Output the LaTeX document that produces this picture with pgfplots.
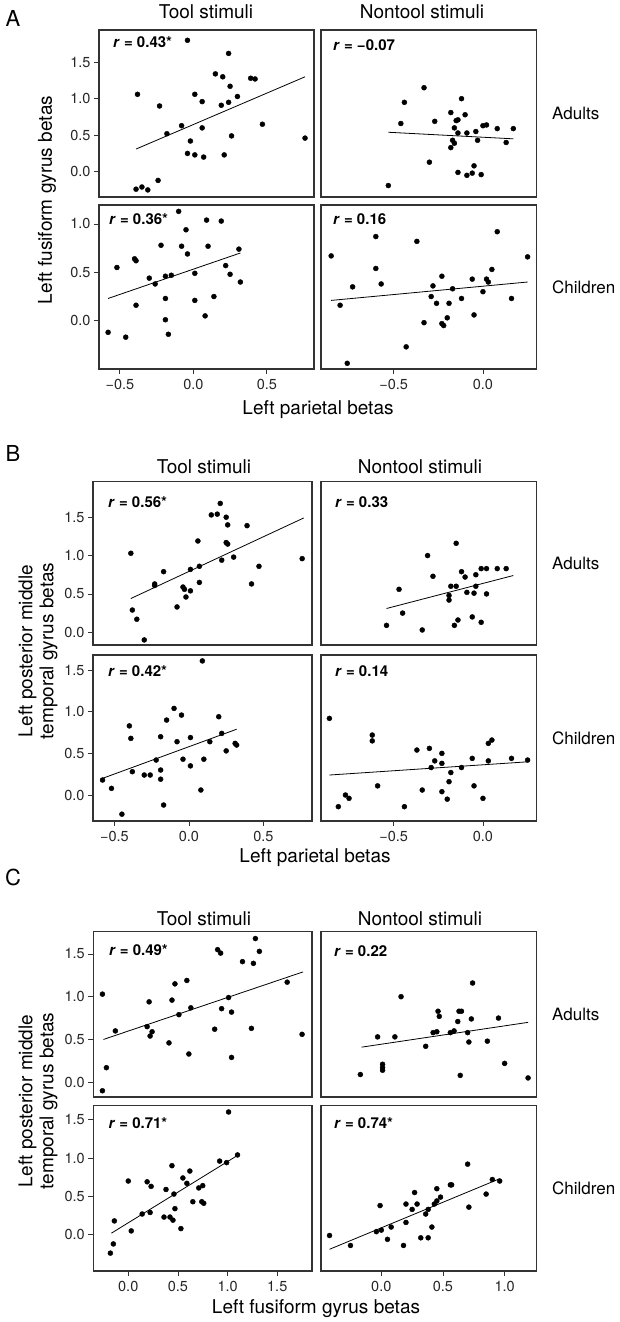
\documentclass[border=0pt]{standalone}
\usepackage{pgfplots}
\pgfplotsset{compat=1.18}
\usepackage{fontspec}
\setmainfont{TeX Gyre Heros}

\newcommand{\tickfont}{\fontsize{14.5}{17}\selectfont}
\newcommand{\labfont}{\fontsize{19}{21}\selectfont}
\newcommand{\rowfont}{\fontsize{17}{20}\selectfont}
\newcommand{\rfont}{\fontsize{15}{18}\selectfont\bfseries}

\pgfplotsset{
  sc/.style={
    scale only axis, clip=false, anchor=north west,
    axis line style={line width=1.4pt, black!80},
    tick align=outside, major tick length=5pt,
    tick style={line width=0.8pt, black!80},
    ticklabel style={font=\tickfont, text=black!85},
    xticklabel style={yshift=-2pt},
    xtick pos=bottom, ytick pos=left,
  },
  pts/.style={only marks, mark=*, mark size=2.5pt, black},
  fit/.style={black, line width=0.8pt, no marks},
}
\tikzset{rl/.style={anchor=west, inner sep=0pt, font=\rfont},
  row/.style={anchor=west, inner sep=0pt, font=\rowfont}}

\begin{document}
\begin{tikzpicture}
\fill[white] (0pt,0pt) rectangle (619pt,-1322pt);
\path[use as bounding box] (0pt,0pt) rectangle (619pt,-1322pt);

% ================= panel A =================
\node[font=\fontsize{22}{24}\selectfont] at (13pt,-18pt) {A};
\node[anchor=base, font=\labfont] at (206pt,-19pt) {Tool stimuli};
\node[anchor=base, font=\labfont] at (422pt,-19pt) {Nontool stimuli};
\node[rotate=90, font=\labfont] at (47pt,-200pt) {Left fusiform gyrus betas};
\node[font=\labfont] at (318pt,-410pt) {Left parietal betas};
\node[row] at (552pt,-113pt) {Adults};
\node[row] at (552pt,-287pt) {Children};

\begin{axis}[sc, at={(99pt,-30pt)}, width=215pt, height=167pt,
  xmin=-0.642, xmax=0.821, ymin=-0.347, ymax=1.941,
  xtick=\empty, ytick={0,0.5,1,1.5}, yticklabels={0.0,0.5,1.0,1.5}]
\addplot[pts] coordinates {(-0.38,1.06) (-0.23,0.90) (-0.18,0.52) (-0.08,0.63) (-0.04,1.80) (-0.02,0.42) (-0.04,0.25) (0.01,1.06) (0.01,0.23) (0.06,0.96) (0.06,0.60) (0.07,0.20) (0.15,1.34) (0.20,1.30) (0.19,0.91) (0.24,0.95) (0.25,1.17) (0.24,1.62) (0.26,0.49) (0.21,0.23) (0.30,1.03) (0.39,1.28) (0.42,1.27) (0.47,0.65) (-0.39,-0.24) (-0.35,-0.21) (-0.31,-0.25) (-0.24,-0.12) (0.76,0.46)};
\addplot[fit] coordinates {(-0.39,0.31) (0.76,1.30)};
\node[rl] at ([xshift=14pt,yshift=-12pt]rel axis cs:0,1) {\textit{r} = 0.43*};
\end{axis}

\begin{axis}[sc, at={(321pt,-30pt)}, width=215.7pt, height=167pt,
  xmin=-0.907, xmax=0.301, ymin=-0.347, ymax=1.941,
  xtick=\empty, ytick=\empty]
\addplot[pts] coordinates {(-0.33,1.15) (-0.44,0.95) (-0.46,0.66) (-0.27,0.69) (-0.12,1.00) (-0.18,0.81) (-0.10,0.78) (-0.15,0.70) (-0.14,0.71) (-0.16,0.60) (-0.14,0.53) (-0.09,0.53) (-0.04,0.55) (-0.03,0.43) (-0.17,0.43) (-0.16,0.39) (-0.18,0.33) (-0.30,0.13) (-0.05,0.08) (-0.14,-0.01) (-0.09,-0.05) (-0.06,-0.02) (-0.53,-0.19) (0.00,0.63) (0.02,0.64) (0.08,0.59) (0.13,0.40) (0.17,0.59) (-0.01,-0.04)};
\addplot[fit] coordinates {(-0.53,0.54) (0.17,0.45)};
\node[rl] at ([xshift=12pt,yshift=-15pt]rel axis cs:0,1) {\textit{r} = −0.07};
\end{axis}

\begin{axis}[sc, at={(99pt,-205pt)}, width=215pt, height=164pt,
  xmin=-0.642, xmax=0.821, ymin=-0.499, ymax=1.196,
  xtick={-0.5,0,0.5}, xticklabels={−0.5,0.0,0.5},
  ytick={-0.5,0,0.5,1}, yticklabels={−0.5,0.0,0.5,1.0}]
\addplot[pts] coordinates {(-0.58,-0.12) (-0.46,-0.17) (-0.52,0.55) (-0.40,0.64) (-0.39,0.62) (-0.39,0.16) (-0.30,0.44) (-0.26,0.38) (-0.22,0.78) (-0.19,0.46) (-0.19,0.23) (-0.19,0.01) (-0.17,-0.14) (-0.15,0.47) (-0.10,1.13) (-0.08,0.77) (-0.05,0.94) (-0.04,0.69) (0.01,0.49) (0.01,0.21) (0.08,0.05) (0.09,1.04) (0.10,0.77) (0.14,0.25) (0.19,1.03) (0.22,0.57) (0.25,0.48) (0.31,0.74) (0.32,0.40)};
\addplot[fit] coordinates {(-0.58,0.23) (0.32,0.70)};
\node[rl] at ([xshift=10pt,yshift=-14pt]rel axis cs:0,1) {\textit{r} = 0.36*};
\end{axis}

\begin{axis}[sc, at={(321pt,-205pt)}, width=215.7pt, height=164pt,
  xmin=-0.907, xmax=0.301, ymin=-0.499, ymax=1.196,
  xtick={-0.5,0}, xticklabels={−0.5,0.0}, ytick=\empty]
\addplot[pts] coordinates {(-0.85,0.67) (-0.80,0.16) (-0.76,-0.44) (-0.73,0.35) (-0.60,0.87) (-0.60,0.54) (-0.57,0.38) (-0.43,-0.27) (-0.37,0.82) (-0.33,-0.02) (-0.29,0.25) (-0.28,0.36) (-0.26,0.18) (-0.23,0.46) (-0.23,-0.03) (-0.22,-0.05) (-0.20,0.03) (-0.19,0.18) (-0.17,0.33) (-0.12,0.23) (-0.06,0.43) (-0.05,0.06) (0.00,0.30) (0.02,0.43) (0.03,0.40) (0.05,0.53) (0.08,0.92) (0.16,0.23) (0.25,0.66)};
\addplot[fit] coordinates {(-0.85,0.21) (0.25,0.40)};
\node[rl] at ([xshift=12pt,yshift=-14pt]rel axis cs:0,1) {\textit{r} = 0.16};
\end{axis}

% ================= panel B =================
\node[font=\fontsize{22}{24}\selectfont] at (13pt,-453pt) {B};
\node[anchor=base, font=\labfont] at (204pt,-473pt) {Tool stimuli};
\node[anchor=base, font=\labfont] at (420pt,-473pt) {Nontool stimuli};
\node[rotate=90, font=\labfont, align=center] at (38pt,-651pt) {Left posterior middle\\temporal gyrus betas};
\node[font=\labfont] at (315pt,-858pt) {Left parietal betas};
\node[row] at (552pt,-563pt) {Adults};
\node[row] at (552pt,-738pt) {Children};

\begin{axis}[sc, at={(93pt,-481.7pt)}, width=219pt, height=163.3pt,
  xmin=-0.644, xmax=0.826, ymin=-0.166, ymax=1.963,
  xtick=\empty, ytick={0,0.5,1,1.5}, yticklabels={0.0,0.5,1.0,1.5}]
\addplot[pts] coordinates {(-0.39,1.03) (-0.38,0.29) (-0.23,0.61) (-0.23,0.63) (-0.17,0.79) (-0.08,0.33) (-0.04,0.59) (-0.03,0.56) (-0.02,0.46) (0.01,0.54) (0.01,0.82) (0.06,1.19) (0.07,0.86) (0.07,0.65) (0.15,1.53) (0.19,1.54) (0.21,1.68) (0.25,1.50) (0.26,1.40) (0.25,1.17) (0.26,1.15) (0.22,0.94) (0.30,0.98) (0.39,1.39) (0.42,0.63) (0.47,0.86) (-0.35,0.17) (-0.30,-0.10) (0.76,0.96)};
\addplot[fit] coordinates {(-0.39,0.44) (0.77,1.49)};
\node[rl] at ([xshift=15pt,yshift=-20.5pt]rel axis cs:0,1) {\textit{r} = 0.56*};
\end{axis}

\begin{axis}[sc, at={(321pt,-481.7pt)}, width=215.7pt, height=163.3pt,
  xmin=-0.907, xmax=0.301, ymin=-0.166, ymax=1.963,
  xtick=\empty, ytick=\empty]
\addplot[pts] coordinates {(-0.15,1.16) (-0.31,1.00) (-0.28,0.73) (-0.47,0.56) (-0.12,0.79) (-0.10,0.72) (-0.04,0.75) (-0.18,0.60) (-0.15,0.60) (-0.04,0.60) (-0.19,0.48) (-0.19,0.42) (-0.09,0.52) (-0.05,0.51) (-0.45,0.25) (-0.54,0.09) (-0.34,0.03) (-0.16,0.09) (-0.14,0.16) (-0.06,0.20) (-0.01,0.13) (-0.01,0.83) (0.02,0.83) (0.08,0.83) (0.13,0.83) (0.02,0.50)};
\addplot[fit] coordinates {(-0.54,0.31) (0.17,0.74)};
\node[rl] at ([xshift=14pt,yshift=-20pt]rel axis cs:0,1) {\textit{r} = 0.33};
\end{axis}

\begin{axis}[sc, at={(93pt,-655pt)}, width=219pt, height=166pt,
  xmin=-0.644, xmax=0.826, ymin=-0.312, ymax=1.681,
  xtick={-0.5,0,0.5}, xticklabels={−0.5,0.0,0.5},
  ytick={0,0.5,1,1.5}, yticklabels={0.0,0.5,1.0,1.5}]
\addplot[pts] coordinates {(-0.58,0.18) (-0.52,0.08) (-0.45,-0.23) (-0.40,0.83) (-0.39,0.68) (-0.38,0.28) (-0.30,0.24) (-0.26,0.24) (-0.22,0.42) (-0.19,0.70) (-0.19,0.30) (-0.19,0.19) (-0.17,-0.12) (-0.15,0.90) (-0.10,1.04) (-0.08,0.64) (-0.05,0.96) (-0.04,0.43) (0.01,0.69) (0.01,0.35) (0.08,0.06) (0.09,1.61) (0.10,0.43) (0.14,0.64) (0.20,0.94) (0.22,0.74) (0.25,0.53) (0.31,0.62) (0.32,0.60)};
\addplot[fit] coordinates {(-0.58,0.20) (0.32,0.79)};
\node[rl] at ([xshift=15pt,yshift=-16pt]rel axis cs:0,1) {\textit{r} = 0.42*};
\end{axis}

\begin{axis}[sc, at={(321pt,-655pt)}, width=215.7pt, height=166pt,
  xmin=-0.907, xmax=0.301, ymin=-0.312, ymax=1.681,
  xtick={-0.5,0}, xticklabels={−0.5,0.0}, ytick=\empty]
\addplot[pts] coordinates {(-0.86,0.92) (-0.81,-0.14) (-0.77,0.00) (-0.75,-0.04) (-0.62,0.72) (-0.62,0.65) (-0.59,0.11) (-0.44,-0.14) (-0.37,0.54) (-0.34,0.06) (-0.30,0.56) (-0.27,0.41) (-0.29,0.33) (-0.23,0.50) (-0.23,0.38) (-0.18,0.27) (-0.19,0.16) (-0.23,0.04) (-0.20,-0.05) (-0.12,0.33) (-0.06,0.44) (-0.05,0.11) (0.00,-0.04) (0.03,0.41) (0.03,0.62) (0.05,0.66) (0.16,0.44) (0.25,0.42)};
\addplot[fit] coordinates {(-0.86,0.24) (0.26,0.40)};
\node[rl] at ([xshift=14pt,yshift=-16pt]rel axis cs:0,1) {\textit{r} = 0.14};
\end{axis}

% ================= panel C =================
\node[font=\fontsize{22}{24}\selectfont] at (13pt,-877pt) {C};
\node[anchor=base, font=\labfont] at (204pt,-925pt) {Tool stimuli};
\node[anchor=base, font=\labfont] at (420pt,-925pt) {Nontool stimuli};
\node[rotate=90, font=\labfont, align=center] at (38pt,-1101pt) {Left posterior middle\\temporal gyrus betas};
\node[font=\labfont] at (316pt,-1309pt) {Left fusiform gyrus betas};
\node[row] at (552pt,-1014pt) {Adults};
\node[row] at (552pt,-1188pt) {Children};

\begin{axis}[sc, at={(93.3pt,-931.7pt)}, width=218.7pt, height=165.3pt,
  xmin=-0.352, xmax=1.850, ymin=-0.173, ymax=1.760,
  xtick=\empty, ytick={0,0.5,1,1.5}, yticklabels={0.0,0.5,1.0,1.5}]
\addplot[pts] coordinates {(-0.26,1.03) (-0.13,0.60) (0.19,0.65) (0.21,0.94) (0.24,0.59) (0.22,0.54) (0.44,0.96) (0.47,1.15) (0.59,1.19) (0.51,0.79) (0.63,0.87) (0.87,0.62) (0.90,1.55) (0.93,1.51) (0.94,0.86) (1.01,0.99) (1.04,0.82) (1.15,1.41) (1.24,0.63) (1.26,1.39) (1.28,1.68) (1.32,1.53) (1.60,1.17) (-0.22,0.17) (-0.26,-0.10) (0.41,0.46) (0.61,0.33) (1.04,0.29) (1.75,0.56)};
\addplot[fit] coordinates {(-0.25,0.50) (1.76,1.29)};
\node[rl] at ([xshift=15.5pt,yshift=-18.5pt]rel axis cs:0,1) {\textit{r} = 0.49*};
\end{axis}

\begin{axis}[sc, at={(321pt,-931.7pt)}, width=215.7pt, height=165.3pt,
  xmin=-0.489, xmax=1.260, ymin=-0.173, ymax=1.760,
  xtick=\empty, ytick=\empty]
\addplot[pts] coordinates {(0.16,1.00) (0.74,1.16) (0.46,0.83) (0.47,0.77) (0.63,0.83) (0.65,0.83) (0.62,0.71) (0.73,0.74) (0.42,0.58) (0.45,0.59) (0.56,0.58) (0.59,0.60) (0.70,0.58) (-0.03,0.53) (0.11,0.53) (0.36,0.42) (-0.17,0.09) (0.01,0.21) (0.01,0.17) (0.01,0.14) (0.64,0.08) (0.71,0.47) (0.86,0.48) (0.95,0.75) (1.00,0.22) (1.19,0.05)};
\addplot[fit] coordinates {(-0.16,0.41) (1.19,0.70)};
\node[rl] at ([xshift=13pt,yshift=-19pt]rel axis cs:0,1) {\textit{r} = 0.22};
\end{axis}

\begin{axis}[sc, at={(93.3pt,-1105.3pt)}, width=218.7pt, height=165.7pt,
  xmin=-0.352, xmax=1.850, ymin=-0.473, ymax=1.687,
  xtick={0,0.5,1,1.5}, xticklabels={0.0,0.5,1.0,1.5},
  ytick={0,0.5,1,1.5}, yticklabels={0.0,0.5,1.0,1.5}]
\addplot[pts] coordinates {(-0.18,-0.24) (-0.15,-0.12) (-0.14,0.18) (0.00,0.70) (0.03,0.05) (0.14,0.27) (0.19,0.69) (0.22,0.29) (0.23,0.63) (0.36,0.23) (0.38,0.59) (0.42,0.23) (0.44,0.90) (0.45,0.19) (0.46,0.53) (0.47,0.34) (0.53,0.08) (0.55,0.74) (0.59,0.67) (0.62,0.83) (0.65,0.43) (0.71,0.61) (0.75,0.64) (0.74,0.43) (0.76,0.41) (0.92,0.96) (0.99,0.94) (1.01,1.60) (1.10,1.04)};
\addplot[fit] coordinates {(-0.17,0.02) (1.12,1.05)};
\node[rl] at ([xshift=15pt,yshift=-17.4pt]rel axis cs:0,1) {\textit{r} = 0.71*};
\end{axis}

\begin{axis}[sc, at={(321pt,-1105.3pt)}, width=215.7pt, height=165.7pt,
  xmin=-0.489, xmax=1.260, ymin=-0.473, ymax=1.687,
  xtick={-0.5,0,0.5,1}, xticklabels={−0.5,0.0,0.5,1.0}, ytick=\empty]
\addplot[pts] coordinates {(-0.42,-0.01) (-0.25,-0.14) (-0.01,0.38) (-0.04,0.04) (0.00,0.06) (0.05,-0.06) (0.08,0.10) (0.18,-0.14) (0.20,0.40) (0.20,0.16) (0.25,0.33) (0.27,0.55) (0.29,0.40) (0.32,-0.04) (0.36,0.27) (0.38,-0.04) (0.38,0.33) (0.41,0.10) (0.43,0.40) (0.45,0.44) (0.45,0.60) (0.48,0.49) (0.56,0.65) (0.57,0.65) (0.70,0.92) (0.71,0.36) (0.85,0.53) (0.90,0.72) (0.96,0.70)};
\addplot[fit] coordinates {(-0.42,-0.19) (0.96,0.73)};
\node[rl] at ([xshift=13pt,yshift=-17.4pt]rel axis cs:0,1) {\textit{r} = 0.74*};
\end{axis}

\end{tikzpicture}
\end{document}
